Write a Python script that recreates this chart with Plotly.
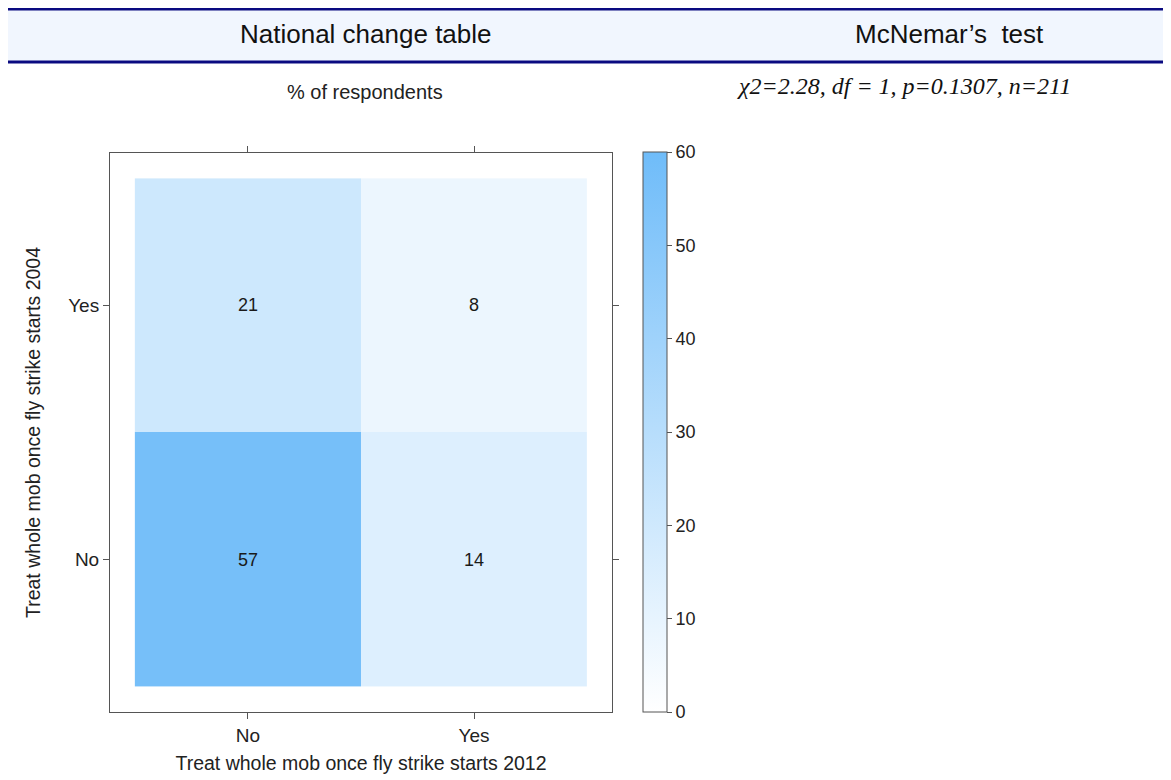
import plotly.graph_objects as go

x_cats = ["No", "Yes"]          # 2012
y_cats = ["No", "Yes"]          # 2004
values = [[57, 14],             # row 2004 = No
          [21, 8]]              # row 2004 = Yes
cbar_ticks = [0, 10, 20, 30, 40, 50, 60]

OFF = 8                      # default page body margin
W, H = 1171 - OFF, 780 - OFF
def px(x): return (x - OFF) / W
def py(y): return 1 - (y - OFF) / H

SANS = "Liberation Sans, Arial, sans-serif"

fig = go.Figure()
fig.add_trace(go.Heatmap(
    z=values, x=x_cats, y=y_cats,
    zmin=0, zmax=60,
    colorscale=[[0, "#ffffff"], [1, "#6fbcf9"]],
    texttemplate="%{z}",
    textfont=dict(family=SANS, size=18, color="#1a1a1a"),
    hoverinfo="skip",
    colorbar=dict(
        x=px(643), xanchor="left", xref="paper", xpad=0, ypad=0,
        y=py(712), yanchor="bottom", yref="paper",
        len=(712 - 152) / H, lenmode="fraction",
        thickness=24, thicknessmode="pixels",
        outlinecolor="#555555", outlinewidth=1,
        tickvals=cbar_ticks, ticks="outside", ticklen=5, tickcolor="#555555",
        tickfont=dict(family=SANS, size=18, color="#222222"),
    ),
))

fig.update_layout(
    width=W, height=H,
    margin=dict(l=0, r=0, t=0, b=0),
    paper_bgcolor="white", plot_bgcolor="white",
    font=dict(family=SANS, color="#222222"),
    xaxis=dict(
        domain=[px(110), px(612)],
        range=[-0.61, 1.61],
        showgrid=False, zeroline=False,
        showline=True, linecolor="#555555", linewidth=1, mirror="allticks",
        ticks="outside", ticklen=6, tickcolor="#555555",
        tickfont=dict(size=19, color="#222222"),
        title=dict(text="Treat whole mob once fly strike starts 2012",
                   font=dict(size=19.5, color="#222222"), standoff=11),
    ),
    yaxis=dict(
        domain=[py(712), py(153)],
        range=[-0.6, 1.6],
        showgrid=False, zeroline=False,
        showline=True, linecolor="#555555", linewidth=1, mirror="allticks",
        ticks="outside", ticklen=6, tickcolor="#555555",
        tickfont=dict(size=19, color="#222222"),
        title=dict(text="Treat whole mob once fly strike starts 2004",
                   font=dict(size=19.5, color="#222222"), standoff=22),
    ),
    shapes=[
        dict(type="rect", xref="paper", yref="paper", x0=0, x1=1,
             y0=py(62), y1=py(3), fillcolor="#f1f6fe", line=dict(width=0), layer="below"),
        dict(type="line", xref="paper", yref="paper", x0=0, x1=1,
             y0=py(9), y1=py(9), line=dict(color="#0a0a80", width=3)),
        dict(type="line", xref="paper", yref="paper", x0=0, x1=1,
             y0=py(62), y1=py(62), line=dict(color="#0a0a80", width=3)),
    ],
    annotations=[
        dict(text="National change table", xref="paper", yref="paper",
             x=px(366), y=py(34), showarrow=False, xanchor="center", yanchor="middle",
             font=dict(size=26, color="#111111")),
        dict(text="McNemar’s  test", xref="paper", yref="paper",
             x=px(949), y=py(34), showarrow=False, xanchor="center", yanchor="middle",
             font=dict(size=26, color="#111111")),
        dict(text="% of respondents", xref="paper", yref="paper",
             x=px(365), y=py(92), showarrow=False, xanchor="center", yanchor="middle",
             font=dict(size=20, color="#222222")),
        dict(text="<i>χ2=2.28, df = 1, p=0.1307, n=211</i>", xref="paper", yref="paper",
             x=px(735), y=py(86), showarrow=False, xanchor="left", yanchor="middle",
             font=dict(family="Liberation Serif, Times New Roman, serif", size=24, color="#111111")),
    ],
)

fig.write_html("out.html")
